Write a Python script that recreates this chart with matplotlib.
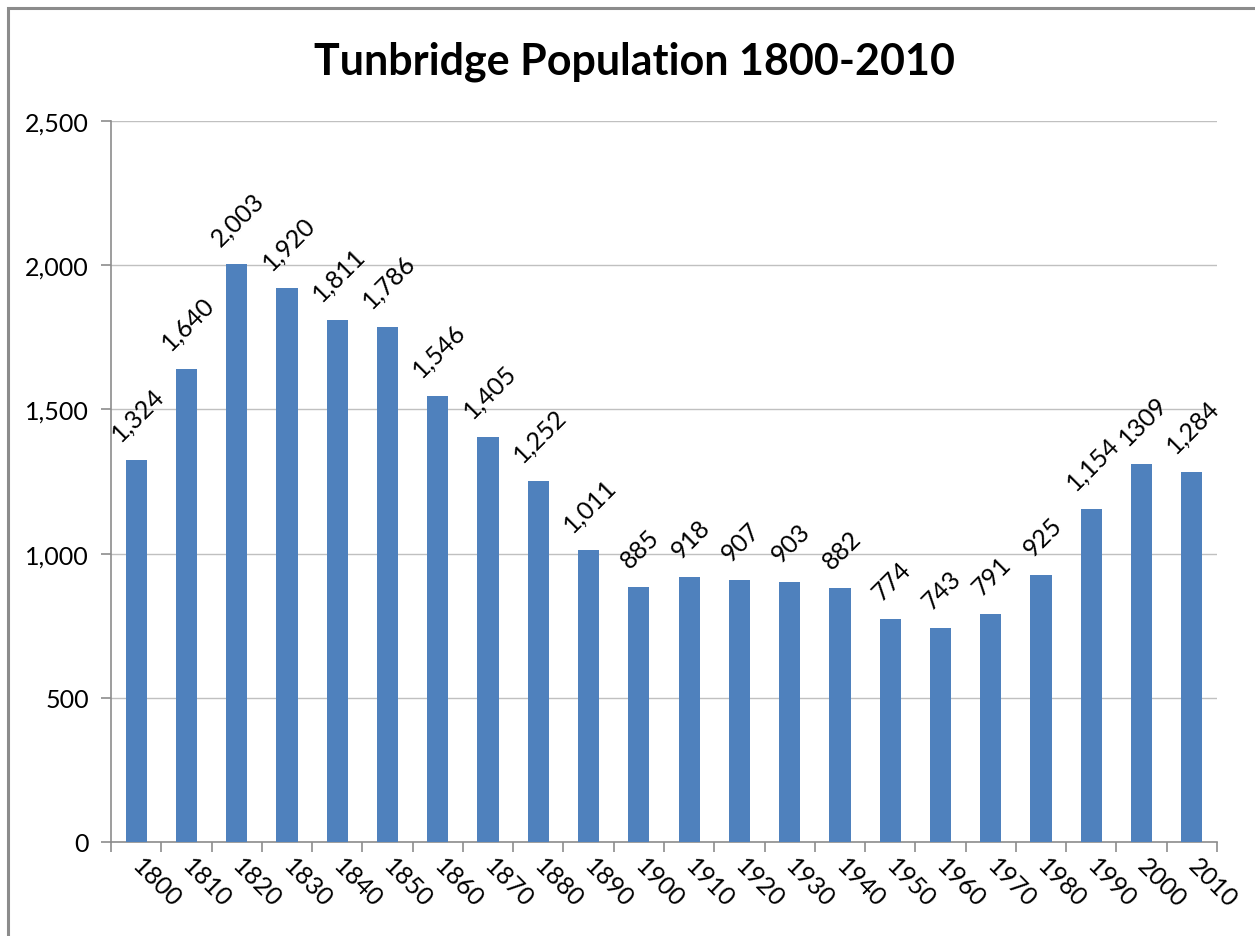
import matplotlib
matplotlib.use("Agg")
import matplotlib.pyplot as plt
from matplotlib.patches import Rectangle

years = ["1800", "1810", "1820", "1830", "1840", "1850", "1860", "1870", "1880", "1890", "1900",
         "1910", "1920", "1930", "1940", "1950", "1960", "1970", "1980", "1990", "2000", "2010"]
population = [1324, 1640, 2003, 1920, 1811, 1786, 1546, 1405, 1252, 1011, 885,
              918, 907, 903, 882, 774, 743, 791, 925, 1154, 1309, 1284]
labels = ["1,324", "1,640", "2,003", "1,920", "1,811", "1,786", "1,546", "1,405", "1,252", "1,011", "885",
          "918", "907", "903", "882", "774", "743", "791", "925", "1,154", "1309", "1,284"]
yticks = [0, 500, 1000, 1500, 2000, 2500]
ytick_labels = ["0", "500", "1,000", "1,500", "2,000", "2,500"]
title = "Tunbridge Population 1800-2010"

plt.rcParams['font.family'] = ['Lato', 'DejaVu Sans']

fig = plt.figure(figsize=(12.55, 9.37), dpi=100)
fig.patches.append(Rectangle((8/1255, -0.1), 1.2, 1.1 - 9/937, transform=fig.transFigure,
                             fill=False, edgecolor='#8c8c8c', linewidth=2.2))
ax = fig.add_axes([111/1255, 1 - 843/937, (1217 - 111)/1255, (843 - 122)/937])

x = list(range(len(years)))
bars = ax.bar(x, population, width=0.42, color='#4F81BD', zorder=3)

ax.set_xlim(-0.5, len(years) - 0.5)
ax.set_ylim(0, 2500)
ax.set_yticks(yticks)
ax.set_yticklabels(ytick_labels, fontsize=18)
ax.yaxis.grid(True, color='#c0c0c0', linewidth=1, zorder=0)
ax.set_axisbelow(True)

ax.set_xticks([i - 0.5 for i in range(len(years) + 1)], minor=False)
ax.set_xticklabels([])
ax.set_xticks(x, minor=True)
ax.set_xticklabels(years, minor=True, rotation=-45, rotation_mode='anchor',
                   ha='left', va='center', fontsize=18)
ax.tick_params(axis='x', which='minor', length=0, pad=14)
ax.tick_params(axis='x', which='major', length=7, color='#8c8c8c', width=1.2)
ax.tick_params(axis='y', length=7, color='#8c8c8c', width=1.2, pad=9)

for s in ['top', 'right']:
    ax.spines[s].set_visible(False)
for s in ['left', 'bottom']:
    ax.spines[s].set_color('#8c8c8c')
    ax.spines[s].set_linewidth(1.2)

for xi, v, lab in zip(x, population, labels):
    ax.annotate(lab, (xi, v), xytext=(1, 11), textcoords='offset points',
                rotation=45, ha='center', va='bottom', fontsize=18)

fig.text(0.5055, 1 - 62/937, title, ha='center', va='center', fontsize=31, fontweight='bold')

fig.savefig("out.png", dpi=100)
